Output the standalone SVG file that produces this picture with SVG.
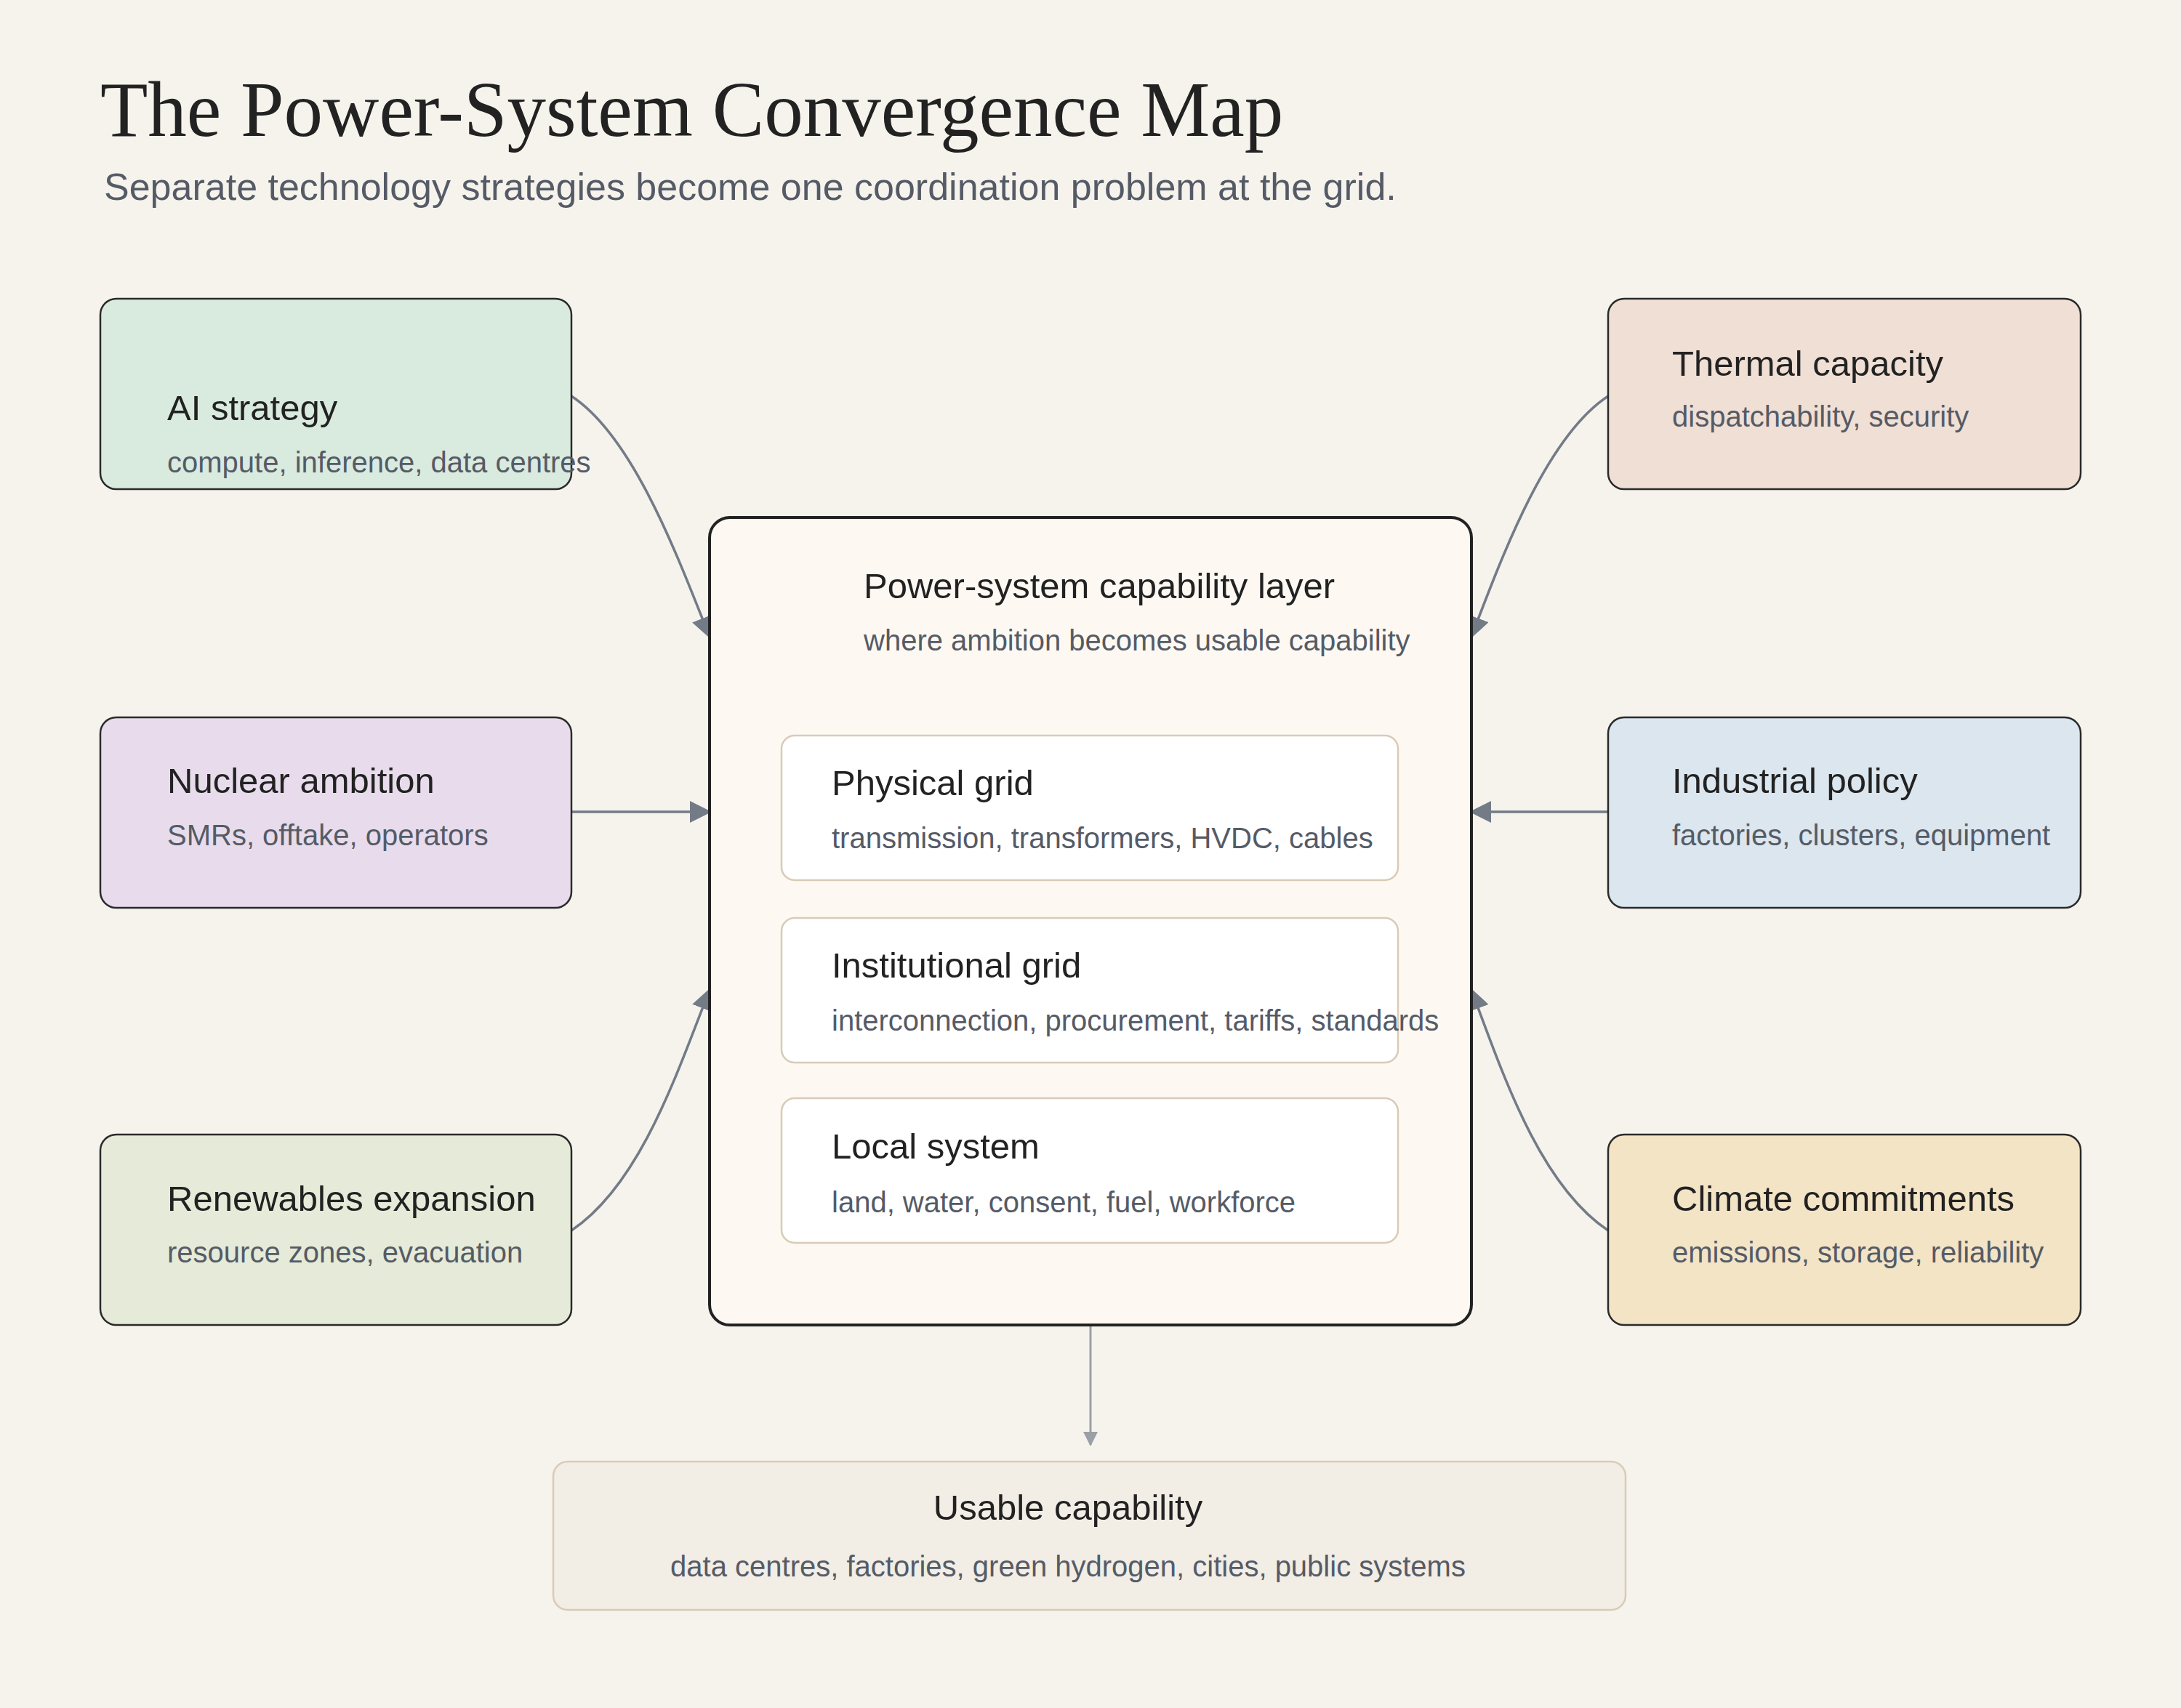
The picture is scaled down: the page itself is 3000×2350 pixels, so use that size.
<svg xmlns="http://www.w3.org/2000/svg" width="3000" height="2350" viewBox="0 0 3000 2350">
<style>
.t{font-family:"Liberation Sans",Arial,sans-serif;font-size:49px;fill:#222}
.s{font-family:"Liberation Sans",Arial,sans-serif;font-size:40px;fill:#555b66}
.box{stroke:#2a2a2a;stroke-width:2.5}
.inner{fill:#fff;stroke:#d8cbb8;stroke-width:2.5}
.c{fill:none;stroke:#737b87;stroke-width:3.5}
</style>
<defs>
<marker id="b" viewBox="0 0 10 10" refX="9" refY="5" markerWidth="30" markerHeight="30" markerUnits="userSpaceOnUse" orient="auto">
<path d="M0,0 L10,5 L0,10 z" fill="#737b87"/>
</marker>
<marker id="g" viewBox="0 0 10 10" refX="9" refY="5" markerWidth="20" markerHeight="20" markerUnits="userSpaceOnUse" orient="auto">
<path d="M0,0 L10,5 L0,10 z" fill="#9aa0a8"/>
</marker>
</defs>
<rect width="3000" height="2350" fill="#f6f3ec"/>
<text x="138" y="187" font-family="Liberation Serif,'Times New Roman',serif" font-size="107" fill="#222">The Power-System Convergence Map</text>
<text x="143" y="275" font-family="Liberation Sans,Arial,sans-serif" font-size="52" fill="#555b66">Separate technology strategies become one coordination problem at the grid.</text>

<g id="connectors">
<path class="c" d="M786,545 C870,600 930,760 976,876" marker-end="url(#b)"/>
<path class="c" d="M2212,545 C2128,600 2068,760 2024,876" marker-end="url(#b)"/>
<path class="c" d="M786,1117 L976,1117" marker-end="url(#b)"/>
<path class="c" d="M2212,1117 L2024,1117" marker-end="url(#b)"/>
<path class="c" d="M786,1693 C880,1630 930,1480 976,1362" marker-end="url(#b)"/>
<path class="c" d="M2212,1693 C2118,1630 2068,1480 2024,1362" marker-end="url(#b)"/>
<path d="M1500,1823 L1500,1988" fill="none" stroke="#9aa0a8" stroke-width="3" marker-end="url(#g)"/>
</g>

<g id="ai"><rect class="box" x="138" y="411" width="648" height="262" rx="22" fill="#d9eadf"/>
<text class="t" x="230" y="578">AI strategy</text><text class="s" x="230" y="650">compute, inference, data centres</text></g>
<g id="thermal"><rect class="box" x="2212" y="411" width="650" height="262" rx="22" fill="#f0dfd5"/>
<text class="t" x="2300" y="517">Thermal capacity</text><text class="s" x="2300" y="587">dispatchability, security</text></g>
<g id="nuclear"><rect class="box" x="138" y="987" width="648" height="262" rx="22" fill="#e8dcec"/>
<text class="t" x="230" y="1091">Nuclear ambition</text><text class="s" x="230" y="1163">SMRs, offtake, operators</text></g>
<g id="industrial"><rect class="box" x="2212" y="987" width="650" height="262" rx="22" fill="#dbe6ef"/>
<text class="t" x="2300" y="1091">Industrial policy</text><text class="s" x="2300" y="1163">factories, clusters, equipment</text></g>
<g id="renewables"><rect class="box" x="138" y="1561" width="648" height="262" rx="22" fill="#e5ebd8"/>
<text class="t" x="230" y="1666">Renewables expansion</text><text class="s" x="230" y="1737">resource zones, evacuation</text></g>
<g id="climate"><rect class="box" x="2212" y="1561" width="650" height="262" rx="22" fill="#f3e4c6"/>
<text class="t" x="2300" y="1666">Climate commitments</text><text class="s" x="2300" y="1737">emissions, storage, reliability</text></g>

<g id="core"><rect x="976" y="712" width="1048" height="1111" rx="28" fill="#fdf9f2" stroke="#222" stroke-width="4"/>
<text class="t" x="1188" y="823">Power-system capability layer</text><text class="s" x="1188" y="895">where ambition becomes usable capability</text></g>
<g id="physical"><rect class="inner" x="1075" y="1012" width="848" height="199" rx="18"/>
<text class="t" x="1144" y="1094">Physical grid</text><text class="s" x="1144" y="1167">transmission, transformers, HVDC, cables</text></g>
<g id="institutional"><rect class="inner" x="1075" y="1263" width="848" height="199" rx="18"/>
<text class="t" x="1144" y="1345">Institutional grid</text><text class="s" x="1144" y="1418">interconnection, procurement, tariffs, standards</text></g>
<g id="local"><rect class="inner" x="1075" y="1511" width="848" height="199" rx="18"/>
<text class="t" x="1144" y="1594">Local system</text><text class="s" x="1144" y="1668">land, water, consent, fuel, workforce</text></g>
<g id="usable"><rect x="761" y="2011" width="1475" height="204" rx="20" fill="#f2ede5" stroke="#d8cbb8" stroke-width="2.5"/>
<text class="t" x="1469" y="2091" text-anchor="middle">Usable capability</text><text class="s" x="1469" y="2169" text-anchor="middle">data centres, factories, green hydrogen, cities, public systems</text></g>
</svg>
